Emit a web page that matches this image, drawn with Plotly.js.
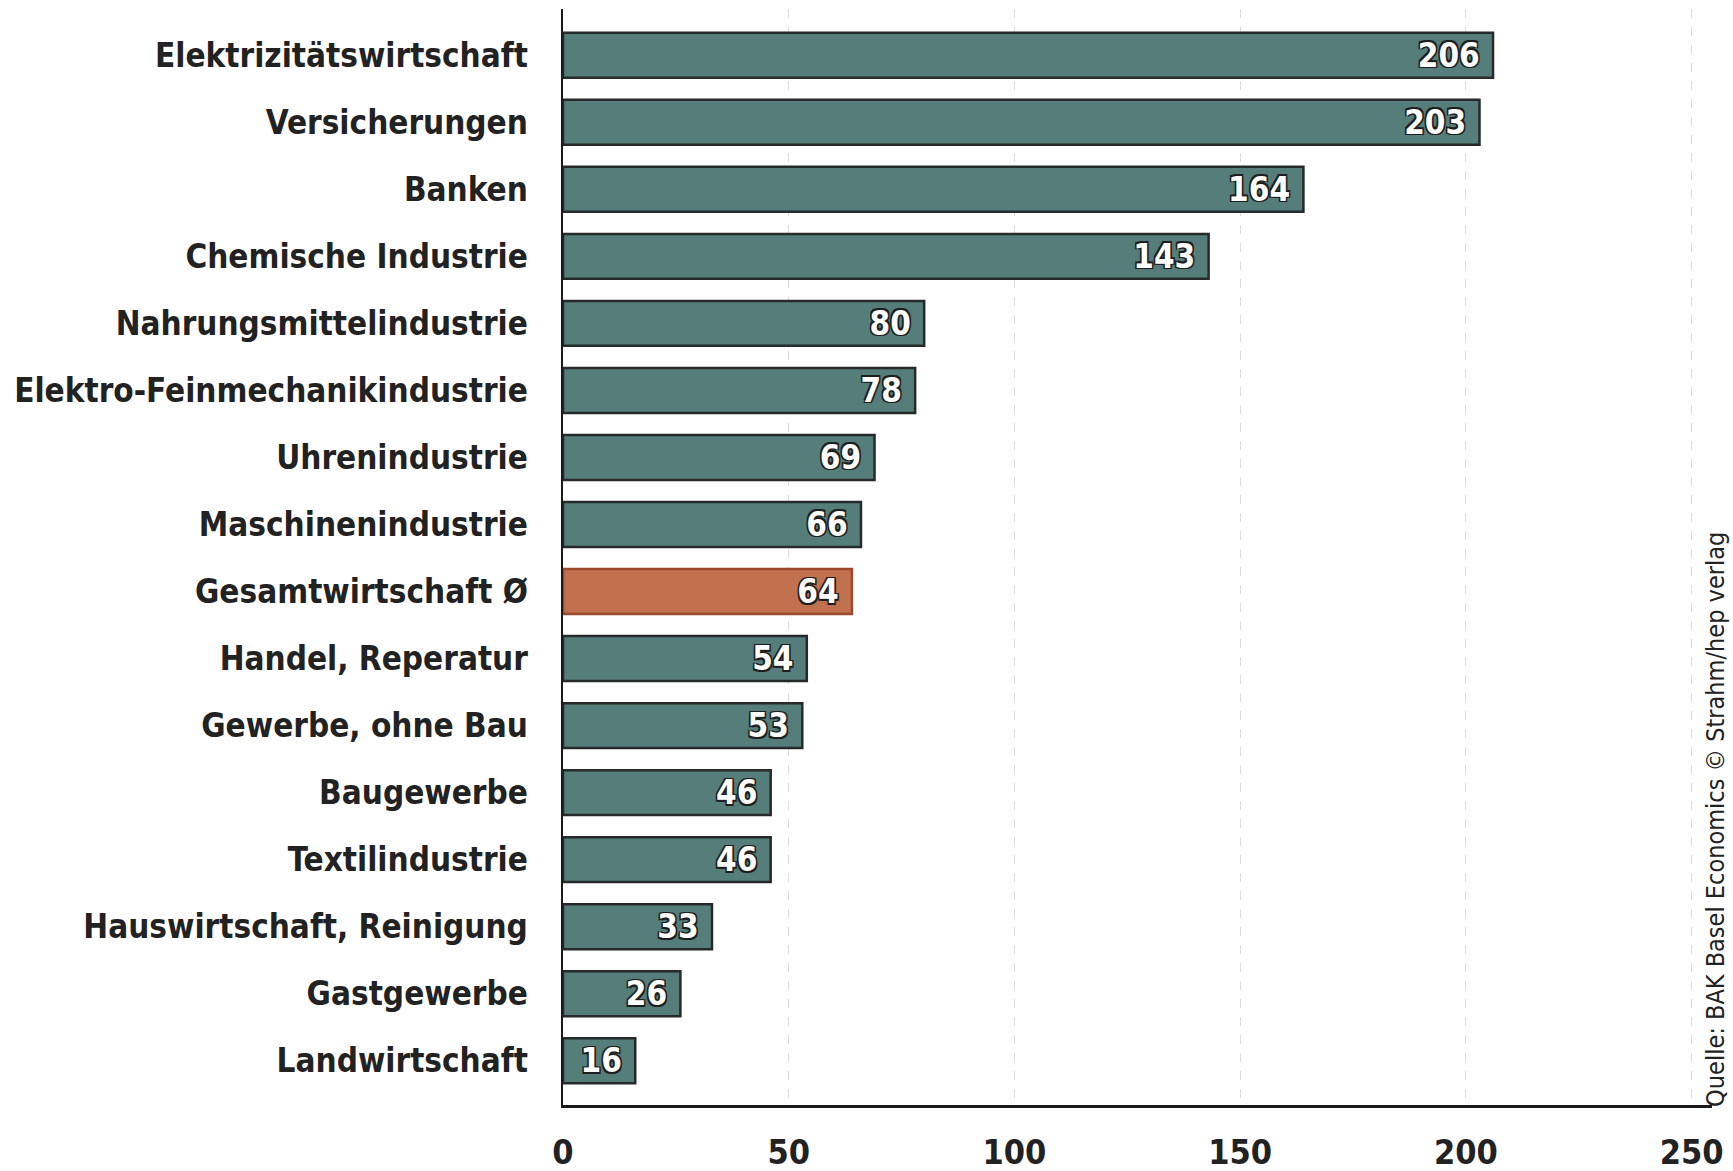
<!DOCTYPE html>
<html>
<head>
<meta charset="utf-8">
<script src="https://cdn.plot.ly/plotly-3.0.1.min.js"></script>
<style>
  html, body { margin: 0; padding: 0; background: #ffffff; }
  #chart { width: 1733px; height: 1171px; }
</style>
</head>
<body>
<div id="chart"></div>
<script>
const categories = [
  "Elektrizitätswirtschaft",
  "Versicherungen",
  "Banken",
  "Chemische Industrie",
  "Nahrungsmittelindustrie",
  "Elektro-Feinmechanikindustrie",
  "Uhrenindustrie",
  "Maschinenindustrie",
  "Gesamtwirtschaft Ø",
  "Handel, Reperatur",
  "Gewerbe, ohne Bau",
  "Baugewerbe",
  "Textilindustrie",
  "Hauswirtschaft, Reinigung",
  "Gastgewerbe",
  "Landwirtschaft"
];
const values = [206, 203, 164, 143, 80, 78, 69, 66, 64, 54, 53, 46, 46, 33, 26, 16];
const highlightCategory = "Gesamtwirtschaft Ø";
const xTickValues = [0, 50, 100, 150, 200, 250];
const xTickLabels = ["0", "50", "100", "150", "200", "250"];
const sourceText = "Quelle: BAK Basel Economics © Strahm/hep verlag";

const TEAL = "#557d7a";
const TEAL_LINE = "#262a2a";
const ORANGE = "#c1714d";
const ORANGE_LINE = "#9c4a2c";
const FONT = "DejaVu Sans Condensed, Liberation Sans Narrow, sans-serif";

const fillColors = categories.map(c => c === highlightCategory ? ORANGE : TEAL);
const lineColors = categories.map(c => c === highlightCategory ? ORANGE_LINE : TEAL_LINE);

const trace = {
  type: "bar",
  orientation: "h",
  y: categories,
  x: values,
  marker: { color: fillColors, line: { color: lineColors, width: 2.5 } },
  text: values.map(v => String(v)),
  texttemplate: "%{text}\u00a0",
  textposition: "inside",
  insidetextanchor: "end",
  textangle: 0,
  constraintext: "none",
  textfont: {
    family: FONT, size: 33, color: "#ffffff", weight: "bold",
    shadow: "1.5px 1.5px 0 #1e1e1e, -1.5px -1.5px 0 #1e1e1e, 1.5px -1.5px 0 #1e1e1e, -1.5px 1.5px 0 #1e1e1e"
  },
  hoverinfo: "skip",
  cliponaxis: false
};

const layout = {
  width: 1733,
  height: 1171,
  margin: { l: 563, r: 21, t: 9, b: 66 },
  paper_bgcolor: "#ffffff",
  plot_bgcolor: "#ffffff",
  showlegend: false,
  bargap: 0.33,
  font: { family: FONT, color: "#222222" },
  xaxis: {
    range: [0, 254.5],
    tickvals: xTickValues,
    ticktext: xTickLabels,
    showgrid: true,
    gridcolor: "#dddddd",
    griddash: "dash",
    gridwidth: 1,
    zeroline: false,
    showline: true,
    linecolor: "#1a1a1a",
    linewidth: 2.5,
    ticks: "",
    ticklabelstandoff: 16,
    tickfont: { family: FONT, size: 34, color: "#222222", weight: "bold" },
    fixedrange: true
  },
  yaxis: {
    categoryorder: "array",
    categoryarray: categories,
    range: [15.66, -0.69],
    showgrid: false,
    zeroline: false,
    showline: true,
    linecolor: "#1a1a1a",
    linewidth: 2.5,
    ticks: "",
    ticklabelstandoff: 26,
    tickfont: { family: FONT, size: 33, color: "#222222", weight: "bold" },
    fixedrange: true
  },
  annotations: [{
    text: sourceText,
    xref: "paper", yref: "paper",
    x: 1.0035, y: -0.004,
    xanchor: "center", yanchor: "bottom",
    textangle: -90,
    showarrow: false,
    font: { family: FONT, size: 25, color: "#222222" }
  }]
};

Plotly.newPlot("chart", [trace], layout, { displayModeBar: false, staticPlot: true });
</script>
</body>
</html>
